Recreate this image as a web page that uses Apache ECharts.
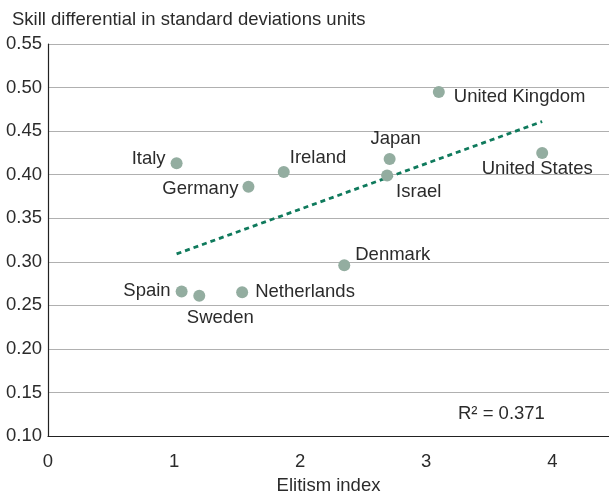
<!DOCTYPE html>
<html><head><meta charset="utf-8">
<script src="https://cdn.jsdelivr.net/npm/echarts@6/dist/echarts.min.js"></script>
<style>html,body{margin:0;padding:0;background:#fff}#c{width:609px;height:497px}</style>
</head><body><div id="c"></div>
<script>
// Data
var countries = ['Italy','Germany','Ireland','Japan','Israel','United Kingdom','United States','Denmark','Spain','Sweden','Netherlands'];
var elitism   = [1.02, 1.59, 1.87, 2.71, 2.69, 3.10, 3.92, 2.35, 1.06, 1.20, 1.54];
var skill     = [0.413, 0.386, 0.403, 0.418, 0.399, 0.495, 0.425, 0.296, 0.266, 0.261, 0.265];
var trendX = [1.02, 3.92];
var trendY = [0.309, 0.461];
var yTicks = [0.10,0.15,0.20,0.25,0.30,0.35,0.40,0.45,0.50,0.55];
var xTicks = [0,1,2,3,4];
var rSquared = 'R² = 0.371';

// Label styling (positions per country)
var labelStyle = {
  'Italy': {position:'left', offset:[0,-4]},
  'Germany': {position:'left', offset:[1,2]},
  'Ireland': {position:'right', offset:[-5,-14]},
  'Japan': {position:'top', offset:[6,0]},
  'Israel': {position:'right', offset:[-2,16]},
  'United Kingdom': {position:'right', offset:[4,5]},
  'United States': {position:'bottom', offset:[-5,-4]},
  'Denmark': {position:'right', offset:[0,-10]},
  'Spain': {position:'left', offset:[0,0]},
  'Sweden': {position:'bottom', offset:[21,2]},
  'Netherlands': {position:'right', offset:[2,0]}
};

var font = '"Liberation Sans", Arial, Helvetica, sans-serif';
var fs = 18.5;
var txt = '#2b2b2b';
var pts = countries.map(function(c,i){
  var ls = labelStyle[c];
  return {value:[elitism[i], skill[i]], name:c,
    label:{show:true, formatter:c, position:ls.position, offset:ls.offset, distance:5,
      color:txt, fontSize:fs, fontFamily:font}};
});

var chart = echarts.init(document.getElementById('c'), null, {renderer:'canvas'});
chart.setOption({
  animation:false,
  title:{text:'Skill differential in standard deviations units', left:7, top:5,
    textStyle:{fontSize:fs, fontWeight:'normal', color:txt, fontFamily:font}},
  grid:{left:48, right:0, top:44, bottom:61, containLabel:false, outerBoundsMode:'none'},
  xAxis:{type:'value', min:0, max:4.45, interval:1,
    name:'Elitism index', nameLocation:'middle', nameGap:40,
    nameTextStyle:{fontSize:fs, color:txt, fontFamily:font},
    axisLine:{show:true, lineStyle:{color:'#222', width:1.2}},
    axisTick:{show:false},
    splitLine:{show:false},
    axisLabel:{fontSize:fs, color:txt, fontFamily:font, margin:16, showMaxLabel:false,
      formatter:function(v){return xTicks.indexOf(v)>=0 ? String(v) : '';}}},
  yAxis:{type:'value', min:0.10, max:0.55, interval:0.05,
    axisLine:{show:true, lineStyle:{color:'#222', width:1.2}},
    axisTick:{show:false},
    splitLine:{show:true, lineStyle:{color:'#b0b0b0', width:1.2}},
    axisLabel:{fontSize:fs, color:txt, fontFamily:font, margin:6,
      formatter:function(v){return v.toFixed(2);}}},
  series:[
    {type:'line', data:trendX.map(function(x,i){return [x,trendY[i]];}),
      symbol:'none', lineStyle:{color:'#0f7a5c', width:2.8, type:[5,4]}, z:3},
    {type:'scatter', data:pts, symbolSize:12,
      itemStyle:{color:'#93ada0', opacity:1}, z:4}
  ],
  graphic:[{type:'text', left:458, top:404,
    style:{text:rSquared, fontSize:fs, fill:txt, fontFamily:font}}]
});
</script></body></html>
